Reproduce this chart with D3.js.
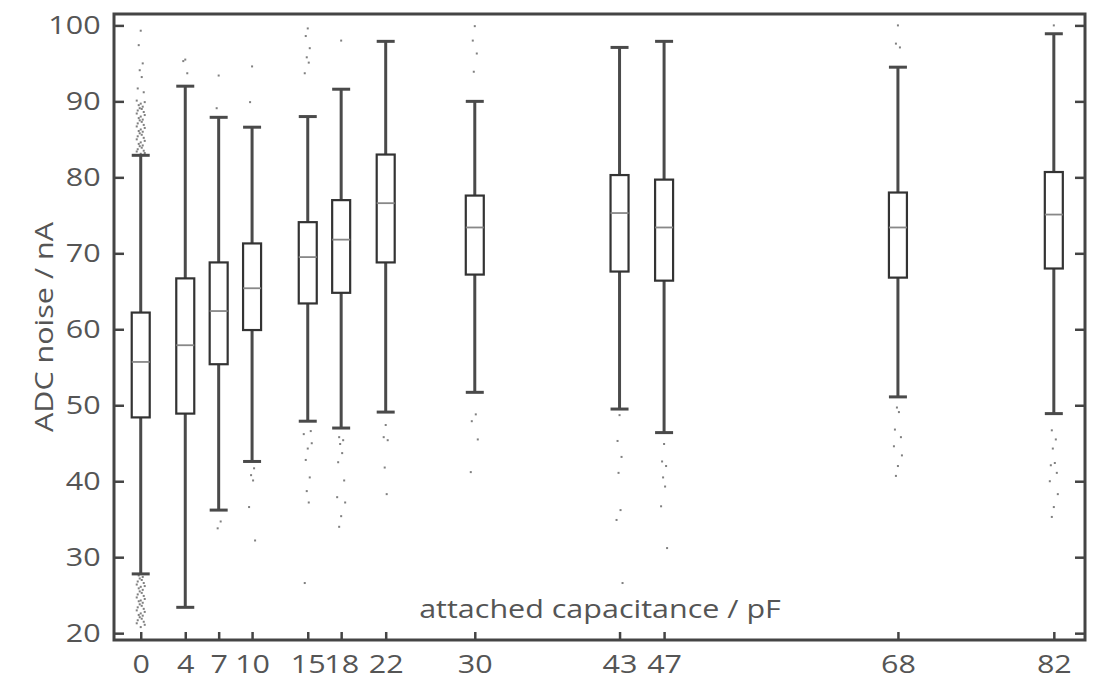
<!DOCTYPE html>
<html>
<head>
<meta charset="utf-8">
<script src="https://cdn.jsdelivr.net/npm/d3@7"></script>
<style>
  body { margin: 0; background: #fff; }
  svg { display: block; font-family: "Open Sans", sans-serif; }
</style>
</head>
<body>
<div id="container"></div>
<script>
// attached capacitance (pF) for each box
const categories = [0, 4, 7, 10, 15, 18, 22, 30, 43, 47, 68, 82];

// box statistics, ADC noise in nA
const upperWhisker = [82.9, 92.0, 87.9, 86.6, 88.0, 91.6, 97.9, 90.0, 97.1, 97.9, 94.5, 98.9];
const q3 = [62.2, 66.7, 68.8, 71.3, 74.1, 77.0, 83.0, 77.6, 80.3, 79.7, 78.0, 80.7];
const medians = [55.7, 57.9, 62.4, 65.4, 69.5, 71.8, 76.6, 73.4, 75.3, 73.4, 73.4, 75.1];
const q1 = [48.4, 48.9, 55.4, 59.9, 63.4, 64.8, 68.8, 67.2, 67.6, 66.4, 66.8, 68.0];
const lowerWhisker = [27.8, 23.4, 36.2, 42.6, 47.9, 47.0, 49.1, 51.7, 49.5, 46.4, 51.1, 48.9];

// outliers, one list per box
const outliers = [
  [99.3, 97.4, 95.0, 94.1, 93.2, 91.7, 91.2, 90.1, 89.9, 89.7, 89.5, 89.3, 89.1, 89.0, 88.8, 88.6, 88.4,
   88.2, 88.0, 87.8, 87.6, 87.5, 87.3, 87.1, 86.9, 86.7, 86.5, 86.3, 86.1, 86.0, 85.8, 85.6, 85.4,
   85.2, 85.0, 84.8, 84.6, 84.4, 84.2, 84.1, 83.9, 83.7, 83.5, 83.4, 83.2, 83.1,
   27.6, 27.4, 27.2, 27.0, 26.8, 26.6, 26.4, 26.2, 26.1, 25.9, 25.7, 25.5, 25.3, 25.1, 24.9, 24.7,
   24.5, 24.3, 24.2, 24.0, 23.8, 23.6, 23.4, 23.2, 23.0, 22.8, 22.6, 22.4, 22.3, 22.1, 21.9, 21.7,
   21.5, 21.3, 21.1, 20.8],
  [95.5, 95.3, 93.7],
  [93.4, 89.1, 34.7, 33.8],
  [94.6, 89.9, 41.7, 40.8, 40.1, 36.6, 32.2],
  [99.6, 98.6, 97.0, 95.8, 95.1, 93.7, 46.6, 46.2, 45.0, 44.3, 42.8, 40.5, 38.7, 37.2, 26.6],
  [98.0, 45.8, 45.4, 44.9, 43.7, 42.5, 40.1, 37.9, 37.2, 35.4, 34.0],
  [47.4, 45.8, 45.4, 41.8, 38.3],
  [99.9, 98.0, 96.3, 93.9, 48.8, 47.9, 45.5, 41.2],
  [48.7, 45.3, 43.2, 41.1, 36.2, 34.9, 26.6],
  [44.9, 42.6, 42.0, 40.5, 39.3, 36.7, 31.2],
  [100.0, 97.6, 97.1, 49.7, 49.1, 46.8, 45.8, 44.6, 43.4, 42.0, 40.7],
  [100.0, 46.7, 45.5, 44.3, 42.4, 42.1, 41.1, 40.0, 38.3, 36.6, 35.3]
];

const yTicks = [20, 30, 40, 50, 60, 70, 80, 90, 100];

// fixed sideways spread for the outlier dots
const spread = [0, -2, 2, -1, 1, -3, 3, -4, 4];

const width = 1102, height = 681;
const plotL = 114, plotR = 1085, plotT = 14, plotB = 640;
const stretch = 1.22; // the lettering in the original is drawn wide

const svg = d3.select("div#container")
  .append("svg")
  .attr("width", width)
  .attr("height", height);

const x = d3.scaleLinear().domain([-2.4, 84.8]).range([plotL, plotR]);
const y = d3.scaleLinear().domain([19.1, 101.5]).range([plotB, plotT]);

const boxW = 18;
const rows = categories.map(function(c, i) {
  return { c: c, hi: upperWhisker[i], q3: q3[i], med: medians[i], q1: q1[i], lo: lowerWhisker[i], out: outliers[i] };
});

// outliers
const dots = svg.append("g").attr("class", "outliers");
rows.forEach(function(d) {
  dots.selectAll(null)
    .data(d.out)
    .enter().append("rect")
    .attr("x", function(v, j) { return x(d.c) + spread[j % spread.length] - 1; })
    .attr("y", function(v) { return y(v) - 1; })
    .attr("width", 2)
    .attr("height", 2)
    .attr("fill", "#555")
    .attr("opacity", 0.75);
});

const box = svg.append("g")
  .attr("class", "boxes")
  .selectAll("g")
  .data(rows)
  .enter().append("g");

// whiskers
box.append("line")
  .attr("x1", function(d) { return x(d.c); })
  .attr("x2", function(d) { return x(d.c); })
  .attr("y1", function(d) { return y(d.hi); })
  .attr("y2", function(d) { return y(d.lo); })
  .attr("stroke", "#4a4a4a")
  .attr("stroke-width", 3);

["hi", "lo"].forEach(function(k) {
  box.append("line")
    .attr("x1", function(d) { return x(d.c) - boxW / 2; })
    .attr("x2", function(d) { return x(d.c) + boxW / 2; })
    .attr("y1", function(d) { return y(d[k]); })
    .attr("y2", function(d) { return y(d[k]); })
    .attr("stroke", "#4a4a4a")
    .attr("stroke-width", 3);
});

box.append("rect")
  .attr("x", function(d) { return x(d.c) - boxW / 2; })
  .attr("y", function(d) { return y(d.q3); })
  .attr("width", boxW)
  .attr("height", function(d) { return y(d.q1) - y(d.q3); })
  .attr("fill", "#fff")
  .attr("stroke", "#333")
  .attr("stroke-width", 2.2);

box.append("line")
  .attr("x1", function(d) { return x(d.c) - boxW / 2; })
  .attr("x2", function(d) { return x(d.c) + boxW / 2; })
  .attr("y1", function(d) { return y(d.med); })
  .attr("y2", function(d) { return y(d.med); })
  .attr("stroke", "#888")
  .attr("stroke-width", 1.8);

// axes, ticks pointing inwards
const axisL = svg.append("g")
  .attr("transform", "translate(" + plotL + ",0)")
  .call(d3.axisLeft(y).tickValues(yTicks).tickSize(-10).tickPadding(11));

const axisR = svg.append("g")
  .attr("transform", "translate(" + plotR + ",0)")
  .call(d3.axisRight(y).tickValues(yTicks).tickSize(-10).tickFormat(""));

const axisB = svg.append("g")
  .attr("transform", "translate(0," + plotB + ")")
  .call(d3.axisBottom(x).tickValues(categories).tickSize(-8).tickPadding(15));

[axisL, axisR, axisB].forEach(function(a) {
  a.select(".domain").remove();
  a.selectAll(".tick line").attr("stroke", "#444").attr("stroke-width", 2.5);
  a.selectAll("text")
    .attr("fill", "#555")
    .attr("transform", "scale(" + stretch + ",1)")
    .style("font-size", "25px")
    .style("font-family", "Open Sans, sans-serif");
});

// frame
svg.append("rect")
  .attr("x", plotL)
  .attr("y", plotT)
  .attr("width", plotR - plotL)
  .attr("height", plotB - plotT)
  .attr("fill", "none")
  .attr("stroke", "#444")
  .attr("stroke-width", 3);

svg.append("text")
  .attr("transform", "translate(600,618) scale(" + stretch + ",1)")
  .attr("text-anchor", "middle")
  .attr("fill", "#555")
  .style("font-size", "25px")
  .text("attached capacitance / pF");

svg.append("text")
  .attr("transform", "translate(53," + ((plotT + plotB) / 2) + ") rotate(-90) scale(" + stretch + ",1)")
  .attr("text-anchor", "middle")
  .attr("fill", "#555")
  .style("font-size", "25px")
  .text("ADC noise / nA");
</script>
</body>
</html>
